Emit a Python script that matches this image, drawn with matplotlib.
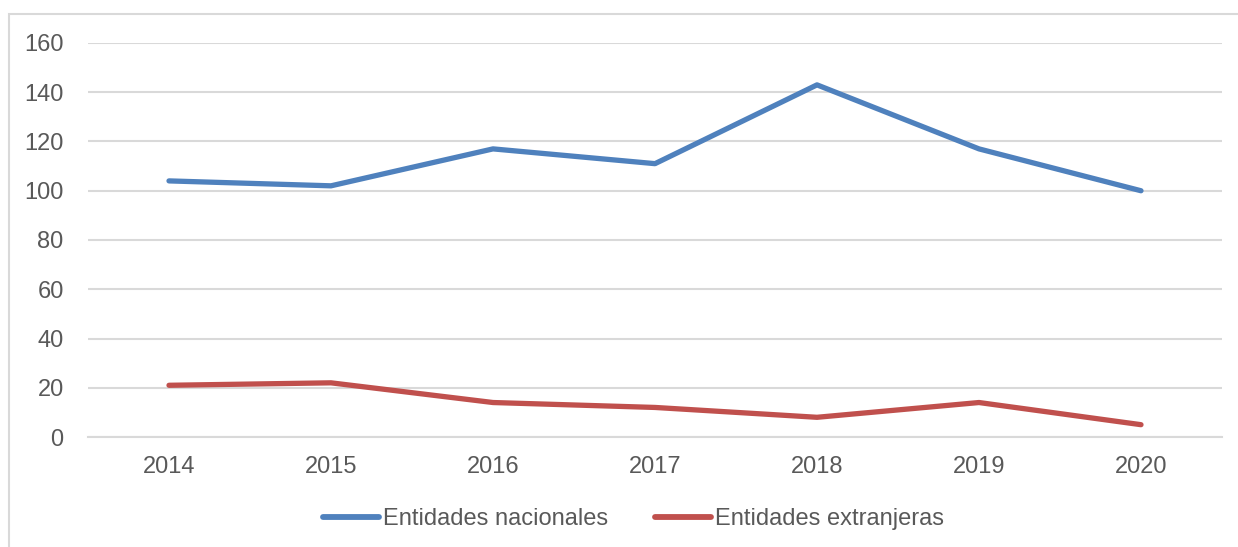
import matplotlib
matplotlib.use("Agg")
import matplotlib.pyplot as plt
from matplotlib.patches import Rectangle

# ── Data ──────────────────────────────────────────────────────
years       = ["2014", "2015", "2016", "2017", "2018", "2019", "2020"]
nacionales  = [104, 102, 117, 111, 143, 117, 100]
extranjeras = [21, 22, 14, 12, 8, 14, 5]
yticks      = [0, 20, 40, 60, 80, 100, 120, 140, 160]

BLUE  = "#4F81BD"
RED   = "#C0504D"
GRID  = "#D9D9D9"
TEXT  = "#595959"

plt.rcParams["font.family"] = ["Liberation Sans", "DejaVu Sans"]

fig = plt.figure(figsize=(12.38, 5.47), dpi=100)
ax = fig.add_axes([88 / 1238, 1 - 437 / 547, (1222 - 88) / 1238, (437 - 43) / 547])

# outer chart frame (left + top edges visible)
fig.patches.append(Rectangle((9 / 1238, -0.1), 1.2, 1 - 14 / 547 + 0.1,
                             transform=fig.transFigure, fill=False,
                             edgecolor=GRID, linewidth=1.5))

x = range(len(years))
ax.plot(x, nacionales, color=BLUE, linewidth=3.8, solid_capstyle="round",
        solid_joinstyle="round", label="Entidades nacionales", zorder=3)
ax.plot(x, extranjeras, color=RED, linewidth=3.8, solid_capstyle="round",
        solid_joinstyle="round", label="Entidades extranjeras", zorder=3)

ax.set_xlim(-0.5, len(years) - 0.5)
ax.set_ylim(0, 160)
ax.set_yticks(yticks)
ax.set_xticks(list(x))
ax.set_xticklabels(years)
ax.yaxis.grid(True, color=GRID, linewidth=1.5)
ax.set_axisbelow(True)
for side in ["top", "right", "left"]:
    ax.spines[side].set_visible(False)
ax.spines["bottom"].set_color(GRID)
ax.spines["bottom"].set_linewidth(1.5)
ax.tick_params(length=0, labelsize=17, colors=TEXT)
ax.tick_params(axis="y", pad=17.5)
ax.tick_params(axis="x", pad=13.5)

leg = ax.legend(loc="center", bbox_to_anchor=(0.481, -0.208), ncol=2, frameon=False,
                fontsize=17, labelcolor=TEXT, handlelength=2.35, handletextpad=0.17,
                columnspacing=2.0)
for h in leg.legend_handles:
    h.set_linewidth(4.2)

fig.savefig("out.png", dpi=100, facecolor="white")
